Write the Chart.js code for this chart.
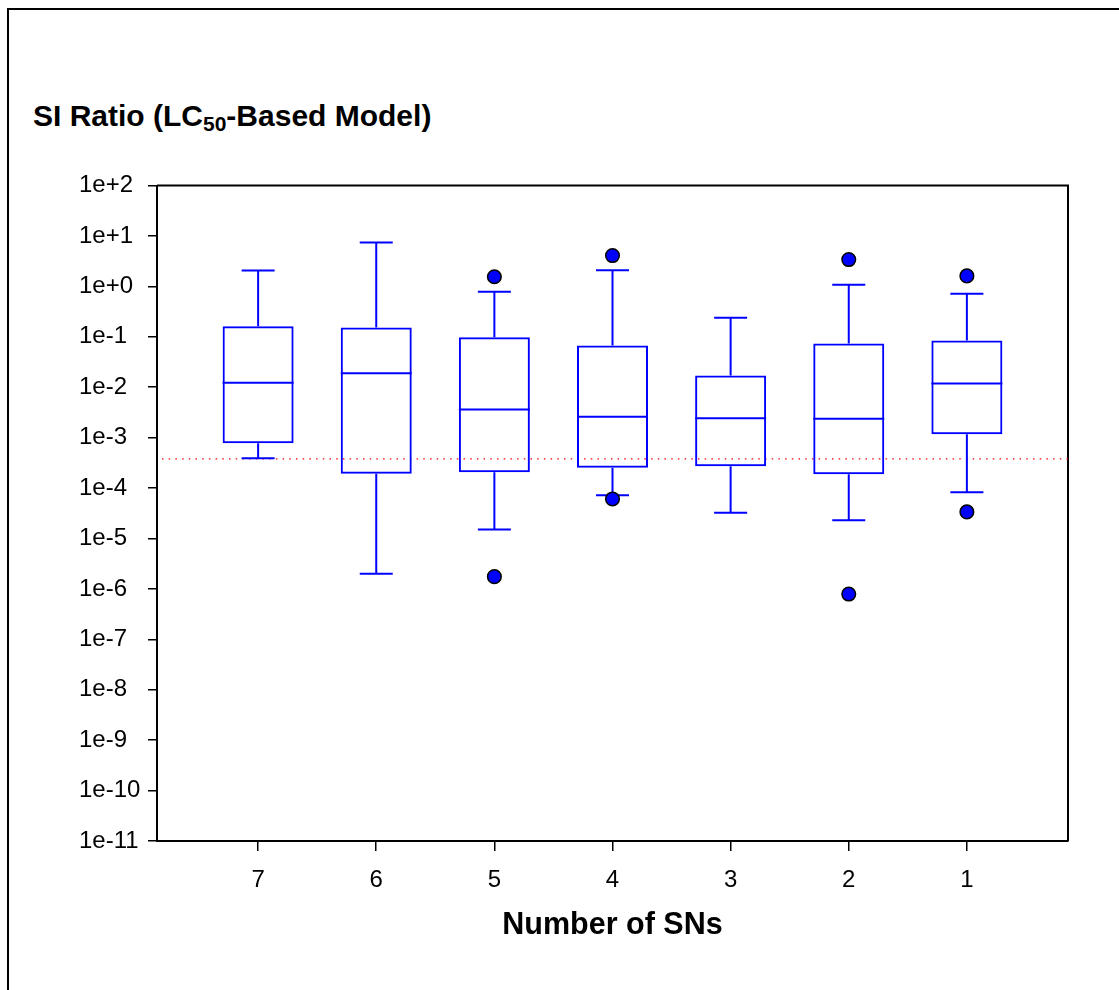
<!DOCTYPE html>
<html>
<head>
<meta charset="utf-8">
<script src="https://cdn.jsdelivr.net/npm/chart.js@4.4.1/dist/chart.umd.min.js"></script>
<style>
  html, body { margin: 0; padding: 0; background: #fff; overflow: hidden; }
  body { width: 1119px; height: 990px; position: relative; font-family: "Liberation Sans", Arial, sans-serif; }
  #frame { position: absolute; left: 7px; top: 8px; width: 1300px; height: 1200px; border: 2px solid #000; box-sizing: border-box; }
  #title { position: absolute; left: 33px; top: 101px; font-size: 30px; line-height: 30px; font-weight: bold; white-space: nowrap; color: #000; }
  #title span { font-size: 21px; line-height: 0; vertical-align: -5px; }
  #c { position: absolute; left: 0; top: 0; }
</style>
</head>
<body>
<div id="frame"></div>
<div id="title">SI Ratio (LC<span>50</span>-Based Model)</div>
<canvas id="c" width="1119" height="990"></canvas>
<script>
// Number of SNs per group, left to right
const groups = [7, 6, 5, 4, 3, 2, 1];

// Box statistics per group (same order as groups)
const whiskerHigh = [2.06, 7.4, 0.778, 2.09, 0.237, 1.07, 0.71];
const q3 = [0.162, 0.152, 0.098, 0.0669, 0.0170, 0.0733, 0.0841];
const median = [0.0123, 0.019, 0.0036, 0.00258, 0.00243, 0.00238, 0.0118];
const q1 = [7.74e-4, 1.93e-4, 2.06e-4, 2.54e-4, 2.71e-4, 1.88e-4, 1.17e-3];
const whiskerLow = [3.9e-4, 2.0e-6, 1.5e-5, 7.2e-5, 3.25e-5, 2.3e-5, 8.26e-5];

// Points outside the whiskers
const outlierGroups = [5, 5, 4, 4, 2, 2, 1, 1];
const outlierValues = [1.55, 1.75e-6, 4.08, 6.08e-5, 3.4, 7.9e-7, 1.61, 3.36e-5];

// Horizontal reference level
const referenceLevel = 3.78e-4;

// Axis ticks
const xTickValues = [7, 6, 5, 4, 3, 2, 1];
const yTickValues = [1e2, 1e1, 1e0, 1e-1, 1e-2, 1e-3, 1e-4, 1e-5, 1e-6, 1e-7, 1e-8, 1e-9, 1e-10, 1e-11];
const yTickLabels = ['1e+2', '1e+1', '1e+0', '1e-1', '1e-2', '1e-3', '1e-4', '1e-5', '1e-6', '1e-7', '1e-8', '1e-9', '1e-10', '1e-11'];

const xMin = 0.144, xMax = 7.856;
const BLUE = '#0000ff';
const FONT = "'Liberation Sans', Arial, sans-serif";

Chart.defaults.font.family = FONT;
Chart.defaults.color = '#000';

// Top and right edges of the plotting frame
const frameLines = {
  id: 'frameLines',
  beforeDatasetsDraw(chart) {
    const { ctx, chartArea: a } = chart;
    ctx.save();
    ctx.strokeStyle = '#000';
    ctx.lineWidth = 2;
    ctx.beginPath();
    ctx.moveTo(a.left, a.top);
    ctx.lineTo(a.right, a.top);
    ctx.lineTo(a.right, a.bottom);
    ctx.stroke();
    ctx.restore();
  }
};

const boxes = groups.map((g, i) => ({ x: g, y: [q1[i], q3[i]] }));
const upperWhiskers = groups.map((g, i) => ({ x: g, y: [q3[i], whiskerHigh[i]] }));
const lowerWhiskers = groups.map((g, i) => ({ x: g, y: [whiskerLow[i], q1[i]] }));
const caps = groups.flatMap((g, i) => [{ x: g, y: whiskerHigh[i] }, { x: g, y: whiskerLow[i] }]);
const medians = groups.map((g, i) => ({ x: g, y: median[i] }));
const outliers = outlierGroups.map((g, i) => ({ x: g, y: outlierValues[i] }));

new Chart(document.getElementById('c'), {
  type: 'bar',
  data: {
    datasets: [
      {
        type: 'scatter', label: 'Outliers', data: outliers, order: 0,
        pointStyle: 'circle', pointRadius: 6.8, pointBackgroundColor: BLUE,
        pointBorderColor: '#000', pointBorderWidth: 1.5
      },
      {
        type: 'scatter', label: 'Median', data: medians, order: 1,
        pointStyle: 'line', pointRadius: 35.5, pointBorderColor: BLUE, pointBorderWidth: 2
      },
      {
        type: 'scatter', label: 'Caps', data: caps, order: 2,
        pointStyle: 'line', pointRadius: 16.5, pointBorderColor: BLUE, pointBorderWidth: 2
      },
      {
        type: 'bar', label: 'Box', data: boxes, order: 3, grouped: false,
        barThickness: 71, backgroundColor: 'rgba(0,0,0,0)', borderColor: BLUE,
        borderWidth: 2, borderSkipped: false, inflateAmount: 0
      },
      {
        type: 'bar', label: 'Upper whisker', data: upperWhiskers, order: 4, grouped: false,
        barThickness: 2, backgroundColor: BLUE, borderWidth: 0, inflateAmount: 0
      },
      {
        type: 'bar', label: 'Lower whisker', data: lowerWhiskers, order: 5, grouped: false,
        barThickness: 2, backgroundColor: BLUE, borderWidth: 0, inflateAmount: 0
      },
      {
        type: 'line', label: 'Reference', order: 6,
        data: [{ x: xMin, y: referenceLevel }, { x: xMax, y: referenceLevel }],
        borderColor: '#ff0000', borderWidth: 1.3, borderDash: [1.5, 5.2],
        pointRadius: 0, fill: false, tension: 0
      }
    ]
  },
  options: {
    responsive: false,
    animation: false,
    devicePixelRatio: 1,
    layout: { padding: { top: 185.5, right: 51, bottom: 0, left: 79 } },
    plugins: { legend: { display: false }, tooltip: { enabled: false } },
    scales: {
      x: {
        type: 'linear', reverse: true, min: xMin, max: xMax, offset: false,
        afterBuildTicks: s => { s.ticks = xTickValues.map(v => ({ value: v })); },
        afterFit: s => { s.height = 149; },
        ticks: {
          font: { size: 24 }, color: '#000', padding: 15,
          autoSkip: false, maxRotation: 0, callback: v => String(v)
        },
        grid: { display: true, offset: false, drawOnChartArea: false, drawTicks: true, tickLength: 10, color: '#000', lineWidth: 1.5 },
        border: { display: true, color: '#000', width: 2 },
        title: {
          display: true, text: 'Number of SNs', color: '#000',
          font: { size: 30.5, weight: 'bold', lineHeight: 1.2 },
          padding: { top: 0, bottom: 46 }
        }
      },
      y: {
        type: 'logarithmic', min: 1e-11, max: 1e2,
        afterBuildTicks: s => { s.ticks = yTickValues.map(v => ({ value: v })); },
        afterFit: s => { s.width = 78; },
        ticks: {
          font: { size: 24 }, color: '#000', padding: 6, crossAlign: 'far',
          autoSkip: false, callback: (v, i) => yTickLabels[i]
        },
        grid: { display: true, drawOnChartArea: false, drawTicks: true, tickLength: 9, color: '#000', lineWidth: 1.5 },
        border: { display: true, color: '#000', width: 2 }
      }
    }
  },
  plugins: [frameLines]
});
</script>
</body>
</html>
